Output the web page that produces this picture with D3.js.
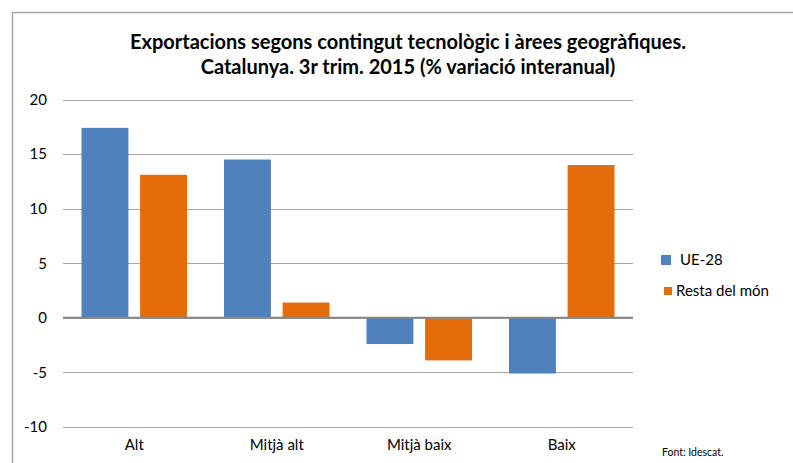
<!DOCTYPE html>
<html>
<head>
<meta charset="utf-8">
<style>
    body { margin: 0; background: #fff; }
    svg text { font-family: Lato, "Open Sans", sans-serif; fill: #000; }
    .tick text { font-size: 15px; }
</style>
<script src="https://d3js.org/d3.v7.min.js"></script>
</head>
<body>
<svg width="793" height="463"></svg>
<script>
    // chart data
    var categories = ["Alt", "Mitjà alt", "Mitjà baix", "Baix"];
    var seriesNames = ["UE-28", "Resta del món"];
    var ue28 = [17.4, 14.5, -2.4, -5.1];
    var restaMon = [13.1, 1.4, -3.9, 14.0];
    var yTicks = [-10, -5, 0, 5, 10, 15, 20];
    var colors = ["#4F81BD", "#E46C0A"];

    var svg = d3.select("svg");

    // outer frame (only left and top edges visible)
    svg.append("rect")
        .attr("x", 12.5).attr("y", 12.5)
        .attr("width", 800).attr("height", 470)
        .attr("fill", "none")
        .attr("stroke", "#a6a6a6")
        .attr("stroke-width", 1.5);

    // title
    var title = svg.append("text")
        .attr("text-anchor", "middle")
        .attr("font-weight", "bold")
        .attr("font-size", "20px");
    title.append("tspan").attr("x", 408).attr("y", 49)
        .text("Exportacions segons contingut tecnològic i àrees geogràfiques.");
    title.append("tspan").attr("x", 408).attr("y", 74)
        .text("Catalunya. 3r trim. 2015 (% variació interanual)");

    var plotL = 63, plotR = 633, plotT = 99.5, plotB = 427;

    var x = d3.scaleBand()
        .domain(categories)
        .range([plotL, plotR]);

    var inner = d3.scaleBand()
        .domain([0, 1])
        .range([18.5, x.bandwidth() - 18.5])
        .paddingInner(0.2);

    var y = d3.scaleLinear()
        .domain([-10, 20])
        .range([plotB, plotT]);

    // gridlines
    svg.append("g")
        .selectAll("line")
        .data(yTicks)
        .join("line")
        .attr("x1", plotL).attr("x2", plotR)
        .attr("y1", function (d) { return Math.round(y(d)) + 0.5; })
        .attr("y2", function (d) { return Math.round(y(d)) + 0.5; })
        .attr("stroke", "#a6a6a6")
        .attr("stroke-width", 1.2);

    // y axis labels (plain hyphen for negatives, like the original)
    var yAxis = d3.axisLeft(y)
        .tickValues(yTicks)
        .tickSize(0)
        .tickPadding(16)
        .tickFormat(function (d) { return String(d); });
    svg.append("g")
        .attr("transform", "translate(" + plotL + ",0)")
        .call(yAxis)
        .call(function (g) { g.select(".domain").remove(); })
        .call(function (g) { g.attr("font-family", null).attr("font-size", null); });

    // bars
    var rows = categories.map(function (c, i) {
        return { cat: c, values: [ue28[i], restaMon[i]] };
    });

    svg.append("g")
        .selectAll("g")
        .data(rows)
        .join("g")
        .attr("transform", function (d) { return "translate(" + x(d.cat) + ",0)"; })
        .selectAll("rect")
        .data(function (d) { return d.values.map(function (v, k) { return { k: k, v: v }; }); })
        .join("rect")
        .attr("x", function (d) { return inner(d.k); })
        .attr("width", inner.bandwidth())
        .attr("y", function (d) { return y(Math.max(0, d.v)); })
        .attr("height", function (d) { return Math.abs(y(d.v) - y(0)); })
        .attr("fill", function (d) { return colors[d.k]; });

    // zero line
    svg.append("line")
        .attr("x1", plotL).attr("x2", plotR)
        .attr("y1", y(0)).attr("y2", y(0))
        .attr("stroke", "#868686")
        .attr("stroke-width", 2);

    // x axis labels
    var xAxis = d3.axisBottom(x).tickSize(0).tickPadding(12);
    svg.append("g")
        .attr("transform", "translate(0," + plotB + ")")
        .call(xAxis)
        .call(function (g) { g.select(".domain").remove(); })
        .call(function (g) { g.attr("font-family", null).attr("font-size", null); });

    // legend
    var legend = svg.append("g")
        .selectAll("g")
        .data(seriesNames)
        .join("g")
        .attr("transform", function (d, i) {
            return i === 0 ? "translate(661,255)" : "translate(664,287)";
        });
    legend.append("rect")
        .attr("width", function (d, i) { return i === 0 ? 10 : 8; })
        .attr("height", function (d, i) { return i === 0 ? 10 : 8; })
        .attr("fill", function (d, i) { return colors[i]; });
    legend.append("text")
        .attr("x", function (d, i) { return i === 0 ? 19 : 12; })
        .attr("y", function (d, i) { return i === 0 ? 5 : 4; })
        .attr("dy", "0.35em")
        .attr("font-size", "15px")
        .text(function (d) { return d; });

    // source
    svg.append("text")
        .attr("x", 662).attr("y", 456)
        .attr("font-size", "10.5px")
        .text("Font: Idescat.");
</script>
</body>
</html>
